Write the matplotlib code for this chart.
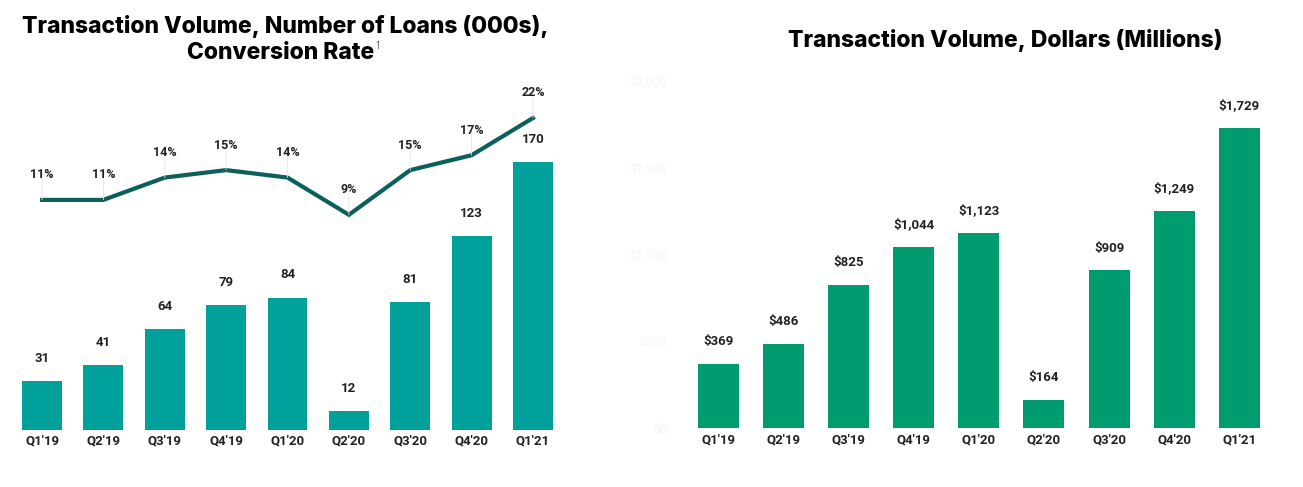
import matplotlib
matplotlib.use("Agg")
import matplotlib.pyplot as plt

quarters = ["Q1'19", "Q2'19", "Q3'19", "Q4'19", "Q1'20", "Q2'20", "Q3'20", "Q4'20", "Q1'21"]
loans_k = [31, 41, 64, 79, 84, 12, 81, 123, 170]
conversion_pct = [11, 11, 14, 15, 14, 9, 15, 17, 22]
dollars_m = [369, 486, 825, 1044, 1123, 164, 909, 1249, 1729]
dollar_ticks = [0, 500, 1000, 1500, 2000]

W, H = 1303, 487
fig = plt.figure(figsize=(W / 100, H / 100), dpi=100)

BAR_L = "#00A19A"
LINE_C = "#0B605C"
BAR_R = "#009B6E"
TXT = "#222222"
LBL_FONT = "Roboto"
TITLE_FONT = "Inter"
TITLE_SIZE = 16.5

def ax_rect(x0, x1, ytop, ybot):
    return [x0 / W, 1 - ybot / H, (x1 - x0) / W, (ybot - ytop) / H]

x = list(range(len(quarters)))

# ---------- left chart ----------
axL = fig.add_axes(ax_rect(5.2, 569.8, 80, 430))
axL.bar(x, loans_k, width=0.65, color=BAR_L, zorder=2)
axL.set_xlim(-0.6, 8.6)
axL.set_ylim(0, 222)
for xi, v in zip(x, loans_k):
    axL.annotate(f"{v}", (xi, v), xytext=(0, 16.5), textcoords="offset points",
                 ha="center", va="center", fontsize=9.5, fontweight="bold",
                 color=TXT, family=LBL_FONT)
axL.set_xticks(x)
axL.set_xticklabels(quarters, fontsize=9.5, fontweight="bold", color=TXT, family=LBL_FONT)
axL.tick_params(axis="x", length=0, pad=3)
axL.set_yticks([])
for s in axL.spines.values():
    s.set_visible(False)

axLine = axL.twinx()
axLine.set_ylim(-19.9, 27.1)
axLine.plot(x, conversion_pct, color=LINE_C, lw=3, solid_joinstyle="miter", zorder=3)
for xi, p in zip(x, conversion_pct):
    axLine.annotate("", xy=(xi, p), xytext=(0, 18), textcoords="offset points",
                    xycoords="data",
                    arrowprops=dict(arrowstyle="-", color="#e4e4e4", lw=0.6,
                                    shrinkA=0, shrinkB=0))
    axLine.annotate(f"{p}%", (xi, p), xytext=(0, 18), textcoords="offset points",
                    ha="center", va="center", fontsize=9, fontweight="bold",
                    color=TXT, family=LBL_FONT)
axLine.set_yticks([])
for s in axLine.spines.values():
    s.set_visible(False)

fig.text(285 / W, 1 - 27 / H, "Transaction Volume, Number of Loans (000s),",
         ha="center", va="center", fontsize=TITLE_SIZE, fontweight="heavy", family=TITLE_FONT, color="#000000")
t2 = fig.text(281 / W, 1 - 53 / H, "Conversion Rate",
              ha="center", va="center", fontsize=TITLE_SIZE, fontweight="heavy", family=TITLE_FONT, color="#000000")
fig.canvas.draw()
bb = t2.get_window_extent()
fig.text((bb.x1 + 1) / W, 1 - 46 / H, "1", ha="left", va="center", fontsize=8,
         fontweight="light", family=TITLE_FONT, color="#000000")

# ---------- right chart ----------
axR = fig.add_axes(ax_rect(672.6, 1278.5, 70, 428))
axR.bar(x, dollars_m, width=0.63, color=BAR_R, zorder=2)
axR.set_xlim(-0.7, 8.6)
axR.set_ylim(0, 2063)
for xi, v in zip(x, dollars_m):
    axR.annotate(f"${v:,}", (xi, v), xytext=(0, 16), textcoords="offset points",
                 ha="center", va="center", fontsize=9.5, fontweight="bold",
                 color=TXT, family=LBL_FONT)
axR.set_xticks(x)
axR.set_xticklabels(quarters, fontsize=9.5, fontweight="bold", color=TXT, family=LBL_FONT)
axR.tick_params(axis="x", length=0, pad=4)
axR.set_yticks(dollar_ticks)
axR.set_yticklabels([f"${t:,}" for t in dollar_ticks], fontsize=9,
                    color="#f5f5f5", family=LBL_FONT)
axR.tick_params(axis="y", length=0, pad=4)
for s in axR.spines.values():
    s.set_visible(False)

fig.text(1005 / W, 1 - 41 / H, "Transaction Volume, Dollars (Millions)",
         ha="center", va="center", fontsize=TITLE_SIZE, fontweight="heavy", family=TITLE_FONT, color="#000000")

fig.savefig("out.png", dpi=100, facecolor="white")
